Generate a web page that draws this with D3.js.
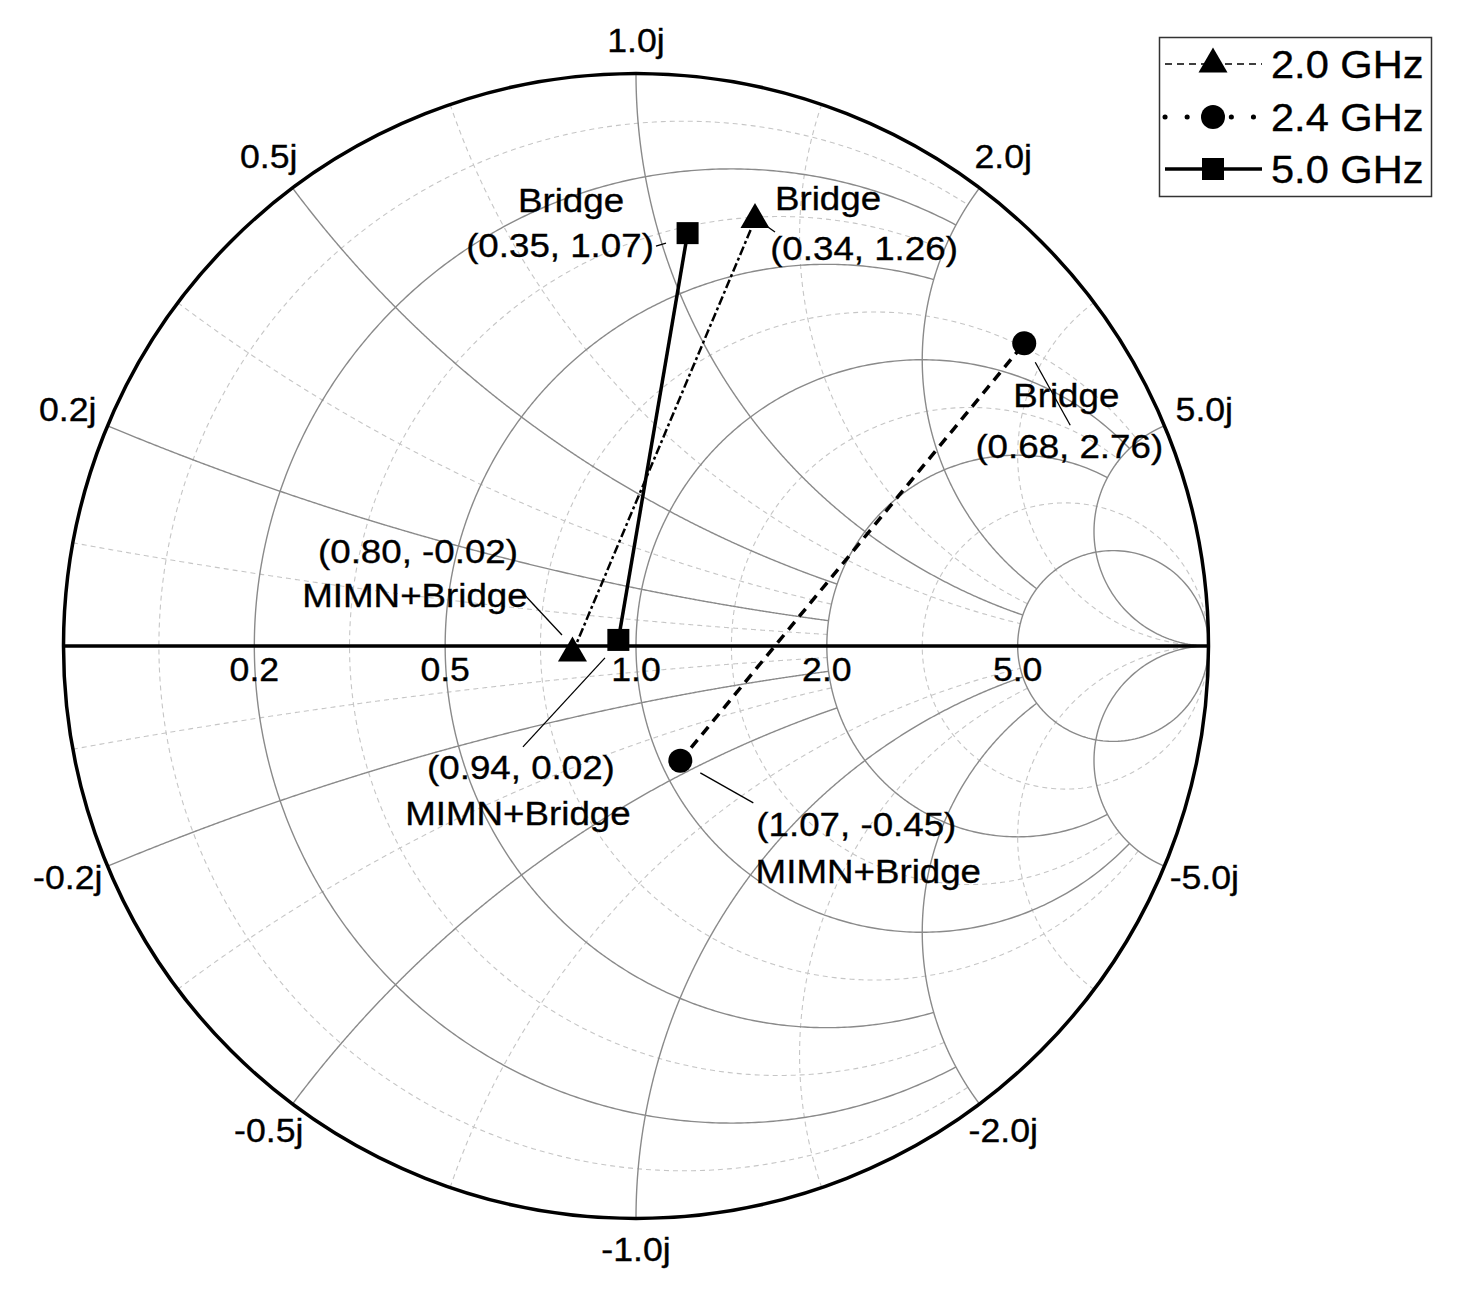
<!DOCTYPE html>
<html>
<head>
<meta charset="utf-8">
<script src="https://cdn.jsdelivr.net/npm/d3@7"></script>
<style>
  body { margin: 0; background: #fff; }
  text { font-family: "Liberation Sans", Arial, sans-serif; fill: #000; stroke: #000; stroke-width: 0.35px; }
</style>
</head>
<body>
<div id="chart"></div>
<script>
// series (normalized impedance r + jx)
var freqLabels = ["2.0 GHz", "2.4 GHz", "5.0 GHz"]
var markerTypes = ["triangle", "circle", "square"]
var bridgeR = [0.34, 0.68, 0.35]
var bridgeX = [1.26, 2.76, 1.07]
var mimnR = [0.80, 1.07, 0.94]
var mimnX = [-0.02, -0.45, 0.02]

// grid values
var rMajor = [0.2, 0.5, 1, 2, 5]
var rMajorLim = [2, 2, 5, 5, Infinity]
var rMinor = [0.0909, 0.333, 0.714, 1.4, 3]
var rMinorLim = [2, 2, 5, 5, Infinity]
var xMajor = [0.2, 0.5, 1, 2, 5]
var xMajorLim = [2, 2, 5, 5, Infinity]
var xMinor = [0.0909, 0.333, 0.714, 1.4, 3]
var xMinorLim = [2, 2, 5, 5, Infinity]
var realTickLabels = ["0.2", "0.5", "1.0", "2.0", "5.0"]
var imagTickLabels = ["0.2j", "0.5j", "1.0j", "2.0j", "5.0j"]

var width = 1464, height = 1301
var cx = 636, cy = 646, R = 572.5
var stretch = 1.08

var sx = d3.scaleLinear().domain([-1, 1]).range([cx - R, cx + R])
var sy = d3.scaleLinear().domain([-1, 1]).range([cy + R, cy - R])

// z -> reflection coefficient
function gamma(r, x) {
  var den = (r + 1) * (r + 1) + x * x
  return [(r * r + x * x - 1) / den, 2 * x / den]
}

var line = d3.line().x(function(p) { return sx(p[0]) }).y(function(p) { return sy(p[1]) })

function rCurve(r, xLim) {
  var a = Math.atan(xLim), pts = []
  for (var i = 0; i <= 600; i++) {
    var phi = -a + 2 * a * i / 600
    pts.push(gamma(r, Math.tan(phi)))
  }
  return pts
}
function xCurve(x, rLim) {
  var a = Math.atan(rLim), pts = []
  for (var i = 0; i <= 600; i++) {
    pts.push(gamma(Math.tan(a * i / 600), x))
  }
  return pts
}

var svg = d3.select("#chart").append("svg")
    .attr("width", width)
    .attr("height", height)

function addText(g, x, y, str, size, anchor) {
  return g.append("text")
    .attr("transform", "translate(" + x + "," + y + ") scale(" + stretch + ",1)")
    .attr("text-anchor", anchor || "middle")
    .style("font-size", size + "px")
    .text(str)
}

// minor grid
var grid = svg.append("g")
rMinor.forEach(function(r, i) {
  grid.append("path").attr("d", line(rCurve(r, rMinorLim[i])))
    .attr("fill", "none").attr("stroke", "#c6c6c6").attr("stroke-width", 1.1).attr("stroke-dasharray", "5,4")
})
xMinor.forEach(function(x, i) {
  [x, -x].forEach(function(v) {
    grid.append("path").attr("d", line(xCurve(v, xMinorLim[i])))
      .attr("fill", "none").attr("stroke", "#c6c6c6").attr("stroke-width", 1.1).attr("stroke-dasharray", "5,4")
  })
})
// major grid
rMajor.forEach(function(r, i) {
  grid.append("path").attr("d", line(rCurve(r, rMajorLim[i])))
    .attr("fill", "none").attr("stroke", "#8a8a8a").attr("stroke-width", 1.4)
})
xMajor.forEach(function(x, i) {
  [x, -x].forEach(function(v) {
    grid.append("path").attr("d", line(xCurve(v, xMajorLim[i])))
      .attr("fill", "none").attr("stroke", "#8a8a8a").attr("stroke-width", 1.4)
  })
})

// outer circle + real axis
svg.append("path").attr("d", line(xCurve(0, Infinity)))
  .attr("fill", "none").attr("stroke", "#000").attr("stroke-width", 3.5)
svg.append("circle").attr("cx", sx(0)).attr("cy", sy(0)).attr("r", sx(1) - sx(0))
  .attr("fill", "none").attr("stroke", "#000").attr("stroke-width", 3.5)

// tick labels
var labels = svg.append("g")
rMajor.forEach(function(r, i) {
  var g = gamma(r, 0)
  addText(labels, sx(g[0]), sy(0) + 35, realTickLabels[i], 33)
})
xMajor.forEach(function(x, i) {
  [1, -1].forEach(function(s) {
    var g = gamma(0, s * x)
    var ang = Math.atan2(g[1], g[0])
    var d = R + 33 + 11 * Math.abs(Math.cos(ang))
    var px = cx + d * Math.cos(ang), py = cy - d * Math.sin(ang)
    if (s < 0) py -= (x == 1 ? 2 : 5)
    addText(labels, px, py + 11.5, (s < 0 ? "-" : "") + imagTickLabels[i], 33)
  })
})

// markers
function marker(g, type, x, y) {
  if (type == "triangle") {
    g.append("path").attr("d", "M" + x + "," + (y - 16.5) + "L" + (x + 14.5) + "," + (y + 8.5) + "L" + (x - 14.5) + "," + (y + 8.5) + "Z")
      .attr("fill", "#000")
  } else if (type == "circle") {
    g.append("circle").attr("cx", x).attr("cy", y).attr("r", 12).attr("fill", "#000")
  } else {
    g.append("rect").attr("x", x - 11).attr("y", y - 11).attr("width", 22).attr("height", 22).attr("fill", "#000")
  }
}

var lineStyles = [
  {w: 2.5, dash: "9,3,3,3"},
  {w: 3.5, dash: "10,7"},
  {w: 3.5, dash: null}
]

// annotation layout, offsets from the point
var bridgeNotes = [
  {t1: [73, -9.5], t2: [109, 40.5], l: [10, 5.5, 20, 12.5]},
  {t1: [42, 64], t2: [45, 115], l: [11, 19, 46, 82]},
  {t1: [-116.6, -21], t2: [-127.6, 24], l: [-31.6, 13, -21.6, 10]}
]
var mimnNotes = [
  {t1: [-154.5, -90], t2: [-157.5, -46], l: [-52.5, -63, -10.5, -18]},
  {t1: [176, 75], t2: [188, 122], l: [20, 12, 73, 42]},
  {t1: [-97.4, 139], t2: [-100.4, 185], l: [-13.4, 18, -95.4, 107]}
]

var plot = svg.append("g")
freqLabels.forEach(function(f, i) {
  var a = gamma(mimnR[i], mimnX[i]), b = gamma(bridgeR[i], bridgeX[i])
  var p = plot.append("path").attr("d", line([a, b]))
    .attr("fill", "none").attr("stroke", "#000").attr("stroke-width", lineStyles[i].w)
  if (lineStyles[i].dash) p.attr("stroke-dasharray", lineStyles[i].dash)
})
freqLabels.forEach(function(f, i) {
  var a = gamma(mimnR[i], mimnX[i]), b = gamma(bridgeR[i], bridgeX[i])
  marker(plot, markerTypes[i], sx(a[0]), sy(a[1]))
  marker(plot, markerTypes[i], sx(b[0]), sy(b[1]))
})

function fmt(v) { return v.toFixed(2) }
var notes = svg.append("g")
freqLabels.forEach(function(f, i) {
  var b = gamma(bridgeR[i], bridgeX[i])
  var bx = sx(b[0]), by = sy(b[1]), n = bridgeNotes[i]
  notes.append("line").attr("x1", bx + n.l[0]).attr("y1", by + n.l[1]).attr("x2", bx + n.l[2]).attr("y2", by + n.l[3])
    .attr("stroke", "#000").attr("stroke-width", 1.3)
  addText(notes, bx + n.t1[0], by + n.t1[1], "Bridge", 34)
  addText(notes, bx + n.t2[0], by + n.t2[1], "(" + fmt(bridgeR[i]) + ", " + fmt(bridgeX[i]) + ")", 34)

  var a = gamma(mimnR[i], mimnX[i])
  var ax = sx(a[0]), ay = sy(a[1]), m = mimnNotes[i]
  notes.append("line").attr("x1", ax + m.l[0]).attr("y1", ay + m.l[1]).attr("x2", ax + m.l[2]).attr("y2", ay + m.l[3])
    .attr("stroke", "#000").attr("stroke-width", 1.3)
  addText(notes, ax + m.t1[0], ay + m.t1[1], "(" + fmt(mimnR[i]) + ", " + fmt(mimnX[i]) + ")", 34)
  addText(notes, ax + m.t2[0], ay + m.t2[1], "MIMN+Bridge", 34)
})

// legend
var legend = svg.append("g")
legend.append("rect").attr("x", 1159.5).attr("y", 37.5).attr("width", 272).attr("height", 159)
  .attr("fill", "#fff").attr("stroke", "#333").attr("stroke-width", 1.5)
var legRows = [64, 117, 169]
var legDash = ["7,5", "0.1,22", null]
var legW = [1.5, 5, 3.5]
freqLabels.forEach(function(f, i) {
  var y = legRows[i]
  var l = legend.append("line").attr("x1", 1165).attr("x2", 1262).attr("y1", y).attr("y2", y)
    .attr("stroke", "#000").attr("stroke-width", legW[i])
  if (legDash[i]) l.attr("stroke-dasharray", legDash[i])
  if (i == 1) l.attr("stroke-linecap", "round")
  marker(legend, markerTypes[i], 1213, y)
  addText(legend, 1271, y + 13.5, f, 38.5, "start")
})
</script>
</body>
</html>
